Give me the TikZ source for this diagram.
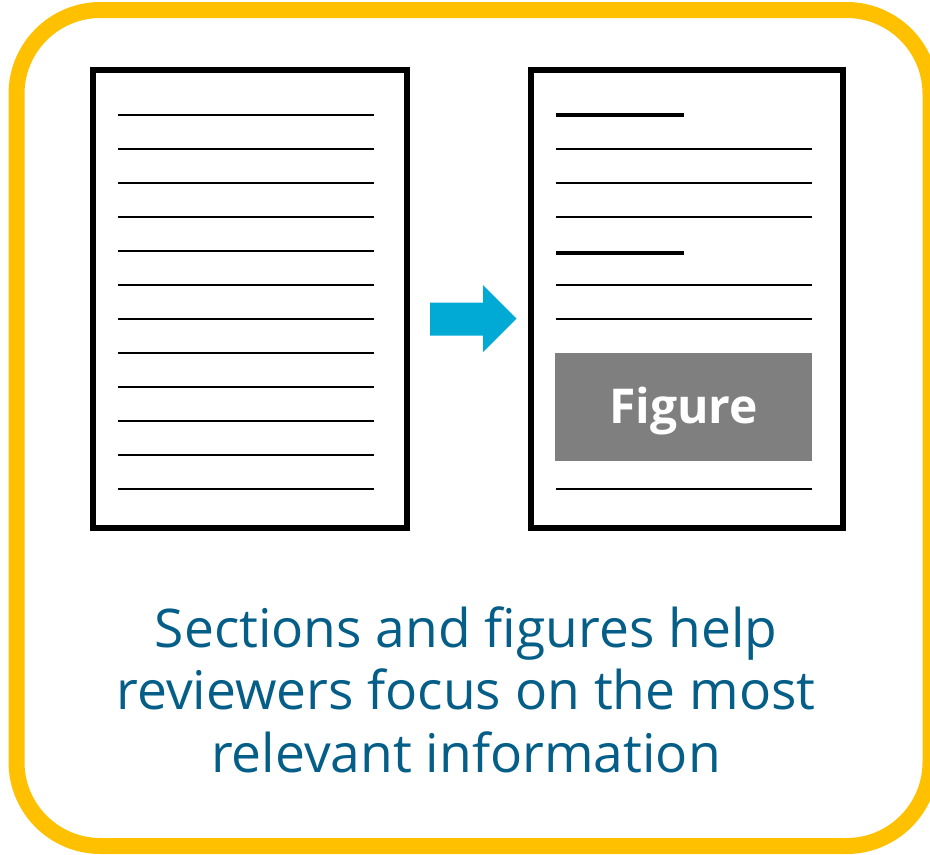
\documentclass[tikz,border=0pt]{standalone}
\usepackage{fontspec}
\setmainfont{Open Sans}
\definecolor{frameyellow}{RGB}{255,192,0}
\definecolor{arrowblue}{RGB}{0,170,212}
\definecolor{captionblue}{RGB}{4,94,135}
\definecolor{figgray}{RGB}{127,127,127}
\tikzset{
  page/.style={draw=black, line width=4.5pt, fill=white},
  textline/.style={draw=black, line width=2.1pt},
  headline/.style={draw=black, line width=3pt},
  caption/.style={text=captionblue, font=\fontsize{40}{46}\selectfont, anchor=base, inner sep=0pt},
}
\begin{document}
\begin{tikzpicture}[x=0.75pt, y=-0.75pt]
\useasboundingbox (0,0) rectangle (930,854);
% frame
\draw[frameyellow, line width=12pt, rounded corners=63pt] (16.5,10) rectangle (930.5,846);
% left page
\coordinate (lpa) at (93,70); \coordinate (lpb) at (406.5,527.5);
\draw[page] (lpa) rectangle (lpb);
\foreach \i in {0,...,11}{
  \coordinate (la\i) at (118,{115+34*\i});
  \coordinate (lb\i) at (374,{115+34*\i});
  \draw[textline] (la\i) -- (lb\i);
}
% right page
\coordinate (rpa) at (531,70); \coordinate (rpb) at (843,527.5);
\draw[page] (rpa) rectangle (rpb);
\coordinate (h1a) at (556,115); \coordinate (h1b) at (684,115);
\draw[headline] (h1a) -- (h1b);
\foreach \y in {149,183,217,285,319,489}{
  \coordinate (ra) at (556,\y); \coordinate (rb) at (811.5,\y);
  \draw[textline] (ra) -- (rb);
}
\coordinate (h2a) at (556,253); \coordinate (h2b) at (684,253);
\draw[headline] (h2a) -- (h2b);
% figure box
\coordinate (fba) at (555,353); \coordinate (fbb) at (811.5,460.5);
\fill[figgray] (fba) rectangle (fbb);
\node[text=white, font=\fontsize{36}{42}\selectfont\bfseries, anchor=base, inner sep=0pt] (fig) at (683.5,423) {Figure};
% arrow
\fill[arrowblue] (430,302.5) -- (483,302.5) -- (483,285) -- (516.5,318.5) -- (483,352) -- (483,335.5) -- (430,335.5) -- cycle;
% caption
\node[caption] (t1) at (466,647) {Sections and figures help};
\node[caption] (t2) at (466,709.5) {reviewers focus on the most};
\node[caption] (t3) at (466,772) {relevant information};
\end{tikzpicture}
\end{document}
